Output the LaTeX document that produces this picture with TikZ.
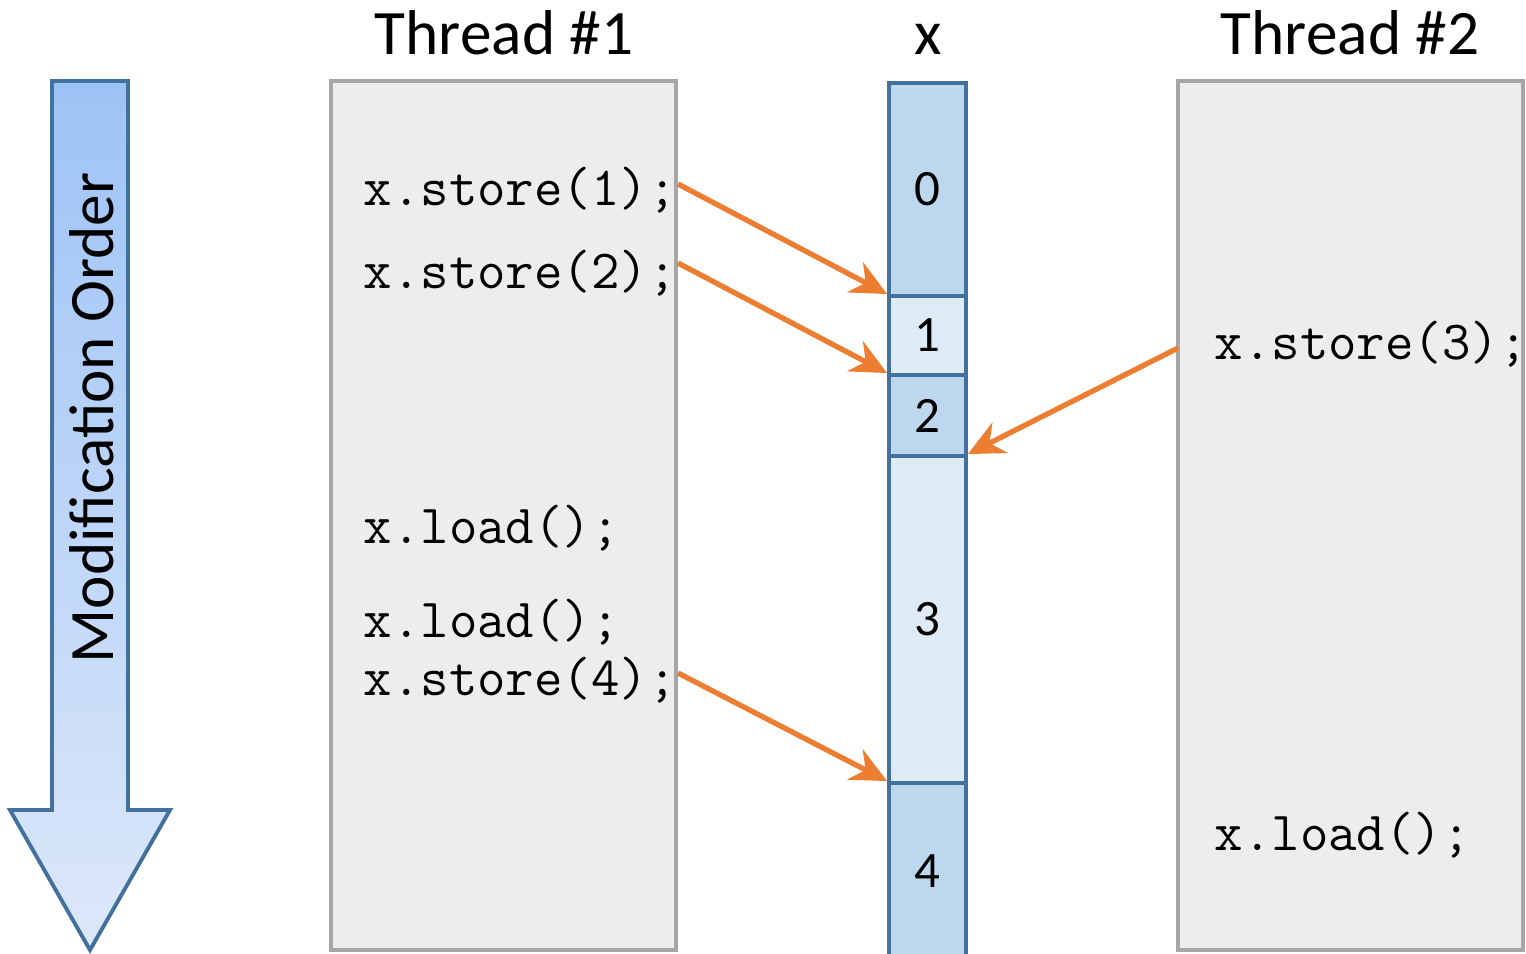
\documentclass[tikz,border=0pt]{standalone}
\usepackage{fontspec}
\setmainfont{Carlito}
\usetikzlibrary{arrows.meta,calc}
\definecolor{boxfill}{HTML}{EDEDED}
\definecolor{boxline}{HTML}{A6A6A6}
\definecolor{cellline}{HTML}{41719C}
\definecolor{celldark}{HTML}{BDD7EE}
\definecolor{celllight}{HTML}{DEEBF7}
\definecolor{orangeline}{HTML}{ED7D31}
\definecolor{gradtop}{HTML}{9DC3F6}
\definecolor{gradbot}{HTML}{DDE8F9}
\tikzset{
  title/.style={font=\fontsize{18}{20}\selectfont, inner sep=0pt, anchor=base},
  code/.style={font=\ttfamily\fontsize{15.7}{17}\selectfont, anchor=west, inner sep=0pt},
  thread/.style={draw=boxline, fill=boxfill, line width=1.1pt, inner sep=0pt},
  cell/.style={draw=cellline, line width=1.1pt, inner sep=0pt, font=\fontsize{14.5}{16}\selectfont},
  dark/.style={fill=celldark},
  light/.style={fill=celllight},
  storearrow/.style={draw=orangeline, line width=1.5pt, -{Stealth[length=0.36cm,width=0.34cm,inset=0.12cm]}}
}
\begin{document}
\begin{tikzpicture}[x=0.01cm,y=-0.01cm]
\useasboundingbox (0,0) rectangle (1526,953);
% modification order arrow
\draw[cellline, line width=1.1pt, top color=gradtop, bottom color=gradbot]
  (52,81) -- (128,81) -- (128,810) -- (170,810) -- (90,950) -- (10,810) -- (52,810) -- cycle;
\node[title, rotate=90, anchor=center] (mo) at (92,418) {Modification Order};
% titles
\node[title] (t1title) at (504,54) {Thread \#1};
\node[title] (xtitle) at (928,54) {x};
\node[title] (t2title) at (1350,54) {Thread \#2};
% thread boxes
\path[thread] (331,81) rectangle (676,950);
\path[thread] (1178,81) rectangle (1523,950);
% cells
\node[cell, dark, minimum width=0.77cm, minimum height=2.13cm, anchor=north west] (c0) at (887,81) {0};
\node[cell, light, minimum width=0.77cm, minimum height=0.79cm, anchor=north west] (c1) at (887,294) {1};
\node[cell, dark, minimum width=0.77cm, minimum height=0.81cm, anchor=north west] (c2) at (887,373) {2};
\node[cell, light, minimum width=0.77cm, minimum height=3.27cm, anchor=north west] (c3) at (887,454) {3};
\node[cell, dark, minimum width=0.77cm, minimum height=1.76cm, anchor=north west] (c4) at (887,781) {4};
% code
\node[code] (s1) at (363,190) {x.store(1);};
\node[code] (s2) at (363,273) {x.store(2);};
\node[code] (l1) at (363,528) {x.load();};
\node[code] (l2) at (363,622) {x.load();};
\node[code] (s4) at (363,680) {x.store(4);};
\node[code] (s3) at (1214,344) {x.store(3);};
\node[code] (l3) at (1214,835) {x.load();};
% arrows
\coordinate (a1) at (678,184);
\coordinate (a2) at (678,263);
\coordinate (a3) at (1178,348);
\coordinate (a4) at (678,673);
\draw[storearrow] (a1) -- (c1.north west);
\draw[storearrow] (a2) -- (c2.north west);
\draw[storearrow] (a3) -- (c3.north east);
\draw[storearrow] (a4) -- (c4.north west);
\end{tikzpicture}
\end{document}
